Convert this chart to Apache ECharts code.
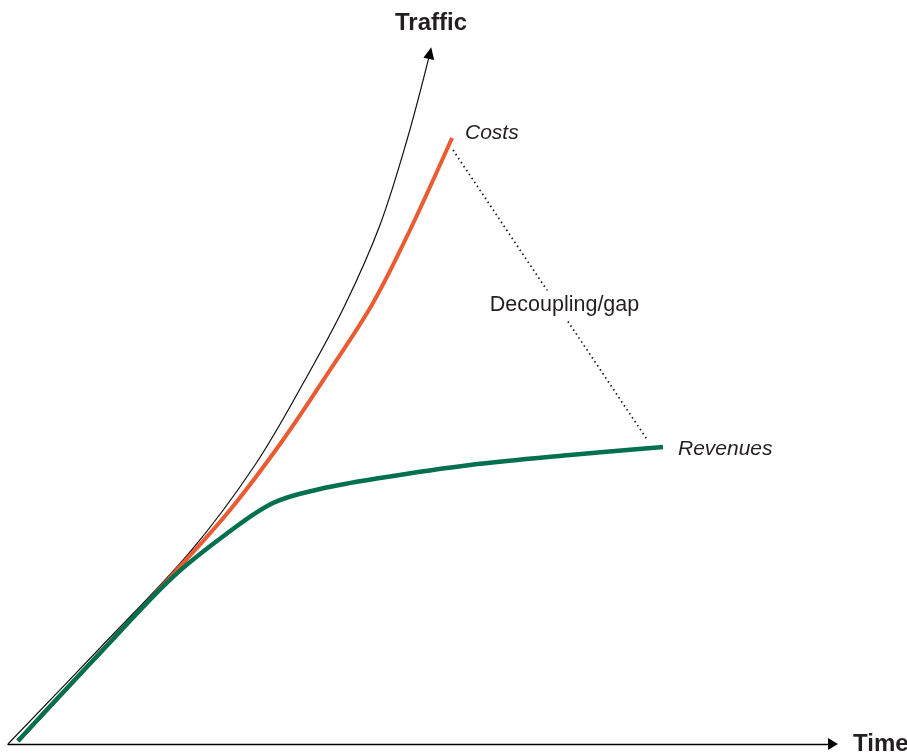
<!DOCTYPE html>
<html>
<head>
<meta charset="utf-8">
<style>
  html, body { margin: 0; padding: 0; background: #ffffff; }
  #chart { width: 907px; height: 754px; }
</style>
<script src="https://cdn.jsdelivr.net/npm/echarts@6/dist/echarts.min.js"></script>
</head>
<body>
<div id="chart"></div>
<script>
// Time / value pairs (abstract units, 0-100)
const trafficTime = [0, 11.15, 22.06, 29.94, 36.0, 40.85, 45.09, 48.36, 51.15];
const trafficVal  = [0, 13.71, 27.43, 39.86, 52.0, 62.71, 74.14, 86.29, 98.71];

const costsTime = [1.21, 11.15, 20.24, 26.91, 33.33, 39.03, 44.24, 48.73, 53.82];
const costsVal  = [0.43, 13.0, 24.57, 33.43, 43.43, 53.43, 63.0, 73.43, 86.57];

const revenuesTime = [1.21, 11.15, 20.0, 26.30, 32.12, 37.82, 45.09, 56.0, 68.12, 79.39];
const revenuesVal  = [0.43, 13.0, 23.86, 29.86, 34.43, 36.43, 38.0, 39.86, 41.29, 42.43];

const gapTime = [53.94, 77.58];
const gapVal  = [84.86, 43.29];

const labels = {
  traffic: 'Traffic',
  time: 'Time',
  costs: 'Costs',
  revenues: 'Revenues',
  gap: 'Decoupling/gap'
};

const FONT = '"Liberation Sans", Arial, Helvetica, sans-serif';
const TEXT = '#231f20';

function zip(xs, ys) { return xs.map((x, i) => [x, ys[i]]); }

const trafficData = zip(trafficTime, trafficVal).map((p, i, arr) => {
  if (i === arr.length - 1) {
    return {
      value: p,
      symbol: 'triangle',
      symbolSize: [11, 12],
      symbolRotate: -12,
      itemStyle: { color: '#000', opacity: 1 },
      label: {
        show: true, position: 'top', distance: 11, offset: [1, 0],
        formatter: labels.traffic,
        fontFamily: FONT, fontWeight: 'bold', fontSize: 24, color: TEXT
      }
    };
  }
  return { value: p };
});

const gapData = zip(gapTime, gapVal);
const gapMid = [(gapTime[0] + gapTime[1]) / 2, (gapVal[0] + gapVal[1]) / 2];

const chart = echarts.init(document.getElementById('chart'), null, { renderer: 'canvas' });

chart.setOption({
  backgroundColor: '#ffffff',
  animation: false,
  grid: { left: 8, right: 74, top: 44, bottom: 10, containLabel: false, outerBoundsMode: 'none' },
  xAxis: {
    type: 'value', min: 0, max: 100,
    name: labels.time, nameLocation: 'end', nameGap: 20,
    nameTextStyle: { fontFamily: FONT, fontWeight: 'bold', fontSize: 24, color: TEXT, verticalAlign: 'middle', padding: [2, 0, 0, 0] },
    axisLine: {
      show: true, onZero: false,
      symbol: ['none', 'triangle'], symbolSize: [12, 10], symbolOffset: [0, 0],
      lineStyle: { color: '#000', width: 1.3 }
    },
    axisTick: { show: false }, axisLabel: { show: false }, splitLine: { show: false }
  },
  yAxis: {
    type: 'value', min: 0, max: 100,
    axisLine: { show: false }, axisTick: { show: false },
    axisLabel: { show: false }, splitLine: { show: false }
  },
  series: [
    {
      name: 'Traffic', type: 'line', data: trafficData, smooth: 0.35,
      showSymbol: true, symbol: 'none', clip: false,
      lineStyle: { color: '#111', width: 1.2 }, z: 1
    },
    {
      name: 'Gap', type: 'line', data: gapData, symbol: 'none', clip: false,
      lineStyle: { color: '#111', width: 1.7, type: [1.5, 3.3] }, z: 1
    },
    {
      name: 'GapLabel', type: 'scatter', data: [gapMid], symbolSize: 1, clip: false,
      itemStyle: { opacity: 0 },
      label: {
        show: true, position: 'inside', offset: [14, 10],
        formatter: labels.gap, opacity: 1,
        fontFamily: FONT, fontSize: 21.5, color: TEXT,
        backgroundColor: '#ffffff', padding: [4, 6]
      }, z: 3
    },
    {
      name: 'Costs', type: 'line', data: zip(costsTime, costsVal), smooth: 0.35, symbol: 'none', clip: false,
      lineStyle: { color: '#ea5b32', width: 4 }, z: 2,
      endLabel: {
        show: true, formatter: labels.costs, distance: 13, offset: [0, -5],
        fontFamily: FONT, fontStyle: 'italic', fontSize: 21, color: TEXT
      }
    },
    {
      name: 'Revenues', type: 'line', data: zip(revenuesTime, revenuesVal), smooth: 0.35, symbol: 'none', clip: false,
      lineStyle: { color: '#00704f', width: 4.5 }, z: 2,
      endLabel: {
        show: true, formatter: labels.revenues, distance: 15, offset: [0, 2],
        fontFamily: FONT, fontStyle: 'italic', fontSize: 21, color: TEXT
      }
    }
  ]
});
</script>
</body>
</html>
